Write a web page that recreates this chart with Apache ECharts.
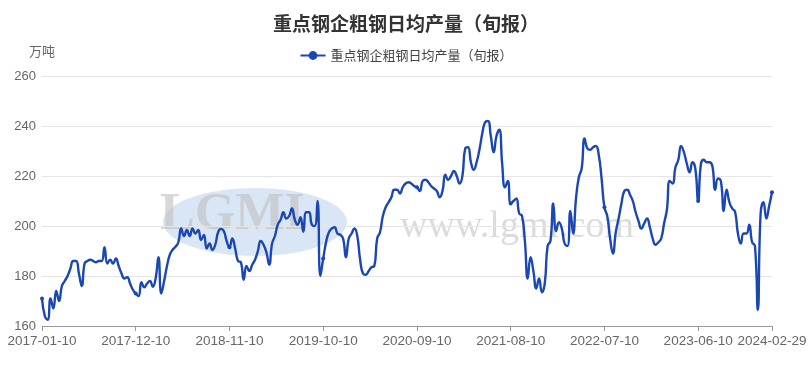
<!DOCTYPE html>
<html>
<head>
<meta charset="utf-8">
<script src="https://cdn.jsdelivr.net/npm/echarts@6/dist/echarts.min.js"></script>
<style>html,body{margin:0;padding:0;background:#fff}#c{width:812px;height:367px}</style>
</head>
<body>
<div id="c"></div>
<script>
// Ten-day periods: 10th, 20th and month end, from 2017-01-10 to 2024-02-29
const startYear = 2017, startMonth = 1, endYear = 2024, endMonth = 2;
const seriesName = '重点钢企粗钢日均产量（旬报）';
const yTicks = [160, 180, 200, 220, 240, 260];
const values2017 = [171,164,162.5,171,167,174,170,176,178,180,183,186,186,181,176,185,186,186.5,186,185.5,186,186,191.5,185,186.5,185,187,184,181,179,179.5,177,174.5];
const values2018 = [173,172,177.5,175.5,177,178,175.7,179,187.5,173,178,184,188.5,190.5,191.7,193.5,199,196,198.4,196,199,197,198.4,194.4,196.4,191,193,190.4,192.5,197.5,198.8,198,194];
const values2019 = [191.5,195,191,186,185.5,178.5,184,182,184.5,186.5,190,194,192.5,189.5,184.5,193,196,200.5,202.5,205.5,203,204,207,202.5,200.5,203.5,197.7,205.5,205.5,200.5,200,210,180];
const values2020 = [187,193.5,197.5,199,199.5,197,196.5,195,187.5,195,197,199,196,186.5,181,180.5,182,183.5,184,195,197.5,204,207.5,209.5,211.5,214.5,214.5,213,215.5,217,217.5,217,216];
const values2021 = [215.5,214,218,218.5,217.5,216,215,214,211.5,214,220.5,218.5,220,222,220,217,220,231,231.5,225.5,222.5,225.5,230.5,237,241.5,242,236,229.5,236,238.5,225,215.5,218];
const values2022 = [209,210,211,205,204,194,179,187.5,182,175,179,173.5,177,192,194,209,198,201.5,199,193,192,206,197,211,219.5,223,235,231,230.5,231.5,232,228.5,219];
const values2023 = [207.5,204,195,189,197.5,203,209,214,214.5,212.5,210,205.5,202,199,201,203,199.5,195,192.5,193.5,195,201,206.5,218,217,223.5,226.4,232,229.5,225,221.5,225.5,223];
const values2024 = [210,225,226.5,225.5,225.5,224,214.5,219,218,206,214.5,209.5,207,205.7,197,193,197,197,200.5,193.5,192,166.5,205,209.5,203,208,213.5];

const values = [].concat(values2017, values2018, values2019, values2020, values2021, values2022, values2023, values2024);

function pad(n){return n<10?'0'+n:''+n;}
const categories = [];
for (let y = startYear; y <= endYear; y++) {
  for (let m = (y===startYear?startMonth:1); m <= (y===endYear?endMonth:12); m++) {
    const last = new Date(y, m, 0).getDate();
    [10, 20, last].forEach(d => categories.push(y + '-' + pad(m) + '-' + pad(d)));
  }
}

const lastIdx = categories.length - 1;
const showIdx = (i) => i % 33 === 0 || i === lastIdx;

const chart = echarts.init(document.getElementById('c'));
chart.setOption({
  animation: false,
  backgroundColor: '#fff',
  title: {
    text: seriesName,
    left: 'center',
    top: 9,
    textStyle: {fontSize: 19, fontWeight: 'bold', color: '#333', fontFamily: 'Noto Sans CJK SC'}
  },
  legend: {
    top: 44,
    left: 'center',
    itemWidth: 25,
    itemHeight: 11,
    textStyle: {fontSize: 13, color: '#444', fontFamily: 'Noto Sans CJK SC'},
    data: [seriesName]
  },
  grid: {left: 42, right: 40, top: 76, bottom: 41},
  graphic: [
    {type: 'ellipse', silent: true, z: 0, shape: {cx: 255, cy: 222, rx: 92, ry: 34}, style: {fill: 'rgba(180,205,235,0.5)'}},
    {type: 'text', silent: true, z: 0, left: 160, top: 190, style: {text: 'LGMI', font: 'bold 52px "Liberation Serif"', fill: 'rgba(195,195,195,0.65)'}},
    {type: 'text', silent: true, z: 0, left: 400, top: 208, style: {text: 'www.lgmi.com', font: '38px "Liberation Serif"', fill: 'rgba(175,175,175,0.45)'}}
  ],
  xAxis: {
    type: 'category',
    data: categories,
    boundaryGap: false,
    axisLine: {lineStyle: {color: '#999'}},
    axisTick: {interval: showIdx, length: 5, lineStyle: {color: '#999'}},
    axisLabel: {interval: showIdx, color: '#666', fontSize: 13.5, margin: 8, fontFamily: 'Liberation Sans'}
  },
  yAxis: {
    type: 'value',
    name: '万吨',
    nameGap: 18,
    nameTextStyle: {color: '#666', fontSize: 13, fontFamily: 'Noto Sans CJK SC', align: 'center'},
    min: yTicks[0],
    max: yTicks[yTicks.length - 1],
    interval: 20,
    axisLine: {show: false},
    axisTick: {show: false},
    axisLabel: {color: '#666', fontSize: 13, margin: 6, fontFamily: 'Liberation Sans'},
    splitLine: {lineStyle: {color: '#e6e6e6'}}
  },
  series: [{
    name: seriesName,
    type: 'line',
    data: values,
    smooth: true,
    symbol: 'circle',
    symbolSize: 4,
    showAllSymbol: 'auto',
    z: 3,
    itemStyle: {color: '#1b47b3'},
    lineStyle: {color: '#1b47b3', width: 2.4}
  }]
});
</script>
</body>
</html>
